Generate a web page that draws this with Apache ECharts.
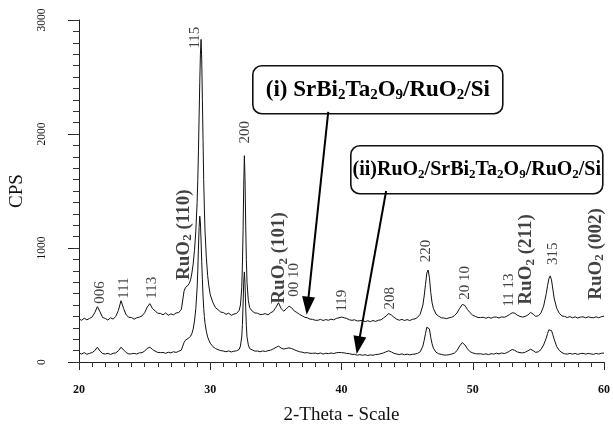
<!DOCTYPE html>
<html><head><meta charset="utf-8">
<script src="https://cdn.jsdelivr.net/npm/echarts@6/dist/echarts.min.js"></script>
<style>html,body{margin:0;padding:0;background:#fff}#c{width:613px;height:430px}</style>
</head><body><div id="c"></div>
<script>
// (i) SrBi2Ta2O9/RuO2/Si  — [2theta, CPS]
const seriesI = [
[20.0,378],[20.2,366],[20.4,384],[20.6,370],[20.8,382],[21.0,395],[21.2,432],[21.4,486],[21.6,440],[21.8,390],
[22.0,382],[22.2,368],[22.4,388],[22.6,376],[22.8,400],[23.0,452],[23.2,538],[23.4,468],[23.6,412],[23.8,392],
[24.0,390],[24.2,376],[24.4,388],[24.6,394],[24.8,404],[25.0,432],[25.2,482],[25.4,512],[25.6,468],[25.8,448],
[26.0,428],[26.2,426],[26.4,414],[26.6,430],[26.8,410],[27.0,422],[27.2,414],[27.4,430],[27.6,434],[27.8,462],
[28.0,620],[28.1,652],[28.2,658],[28.3,672],[28.4,690],[28.5,720],[28.6,780],[28.7,860],[28.8,980],[28.9,1150],
[29.0,1400],[29.05,1600],[29.1,1850],[29.15,2150],[29.2,2450],[29.25,2700],[29.3,2830],[29.35,2650],[29.4,2300],[29.45,1950],
[29.5,1600],[29.55,1350],[29.6,1150],[29.7,920],[29.8,760],[29.9,660],[30.0,590],[30.2,522],[30.4,476],[30.6,458],
[30.8,438],[31.0,434],[31.2,418],[31.4,428],[31.6,410],[31.8,420],[32.0,426],[32.2,452],[32.3,500],[32.4,650],
[32.45,850],[32.5,1150],[32.55,1550],[32.6,1810],[32.65,1600],[32.7,1200],[32.75,900],[32.8,700],[32.9,540],[33.0,476],
[33.2,446],[33.4,430],[33.6,428],[33.8,416],[34.0,418],[34.2,424],[34.4,414],[34.6,432],[34.8,444],[35.0,480],
[35.2,520],[35.4,468],[35.6,446],[35.8,466],[36.0,490],[36.2,476],[36.4,448],[36.6,434],[36.8,418],[37.0,406],
[37.2,392],[37.4,388],[37.6,376],[37.8,374],[38.0,366],[38.2,366],[38.4,374],[38.6,364],[38.8,372],[39.0,366],
[39.2,376],[39.4,370],[39.6,382],[39.8,388],[40.0,394],[40.2,388],[40.4,382],[40.6,370],[40.8,366],[41.0,370],
[41.2,360],[41.4,362],[41.6,366],[41.8,354],[42.0,362],[42.2,354],[42.4,364],[42.6,356],[42.8,366],[43.0,370],
[43.2,386],[43.4,404],[43.6,425],[43.8,412],[44.0,392],[44.2,376],[44.4,366],[44.6,374],[44.8,364],[45.0,372],
[45.2,364],[45.4,374],[45.6,378],[45.8,392],[46.0,420],[46.2,500],[46.3,580],[46.4,680],[46.5,780],[46.6,807],
[46.7,740],[46.8,610],[46.9,520],[47.0,470],[47.2,420],[47.4,402],[47.6,388],[47.8,386],[48.0,380],[48.2,388],
[48.4,392],[48.6,406],[48.8,430],[49.0,470],[49.2,505],[49.4,496],[49.6,460],[49.8,432],[50.0,410],[50.2,400],
[50.4,390],[50.6,390],[50.8,392],[51.0,384],[51.2,392],[51.4,384],[51.6,394],[51.8,394],[52.0,386],[52.2,396],
[52.4,392],[52.6,402],[52.8,416],[53.0,432],[53.2,428],[53.4,410],[53.6,400],[53.8,394],[54.0,400],[54.2,412],
[54.4,435],[54.6,420],[54.8,400],[55.0,406],[55.2,430],[55.4,490],[55.6,600],[55.7,670],[55.8,730],[55.9,755],
[56.0,720],[56.1,640],[56.2,560],[56.4,470],[56.6,426],[56.8,404],[57.0,400],[57.2,390],[57.4,398],[57.6,388],
[57.8,396],[58.0,386],[58.2,394],[58.4,396],[58.6,388],[58.8,396],[59.0,390],[59.2,388],[59.4,396],[59.6,388],
[59.8,398],[60.0,402]
];
// (ii) RuO2/SrBi2Ta2O9/RuO2/Si — [2theta, CPS]
const seriesII = [
[20.0,78],[20.2,70],[20.4,82],[20.6,68],[20.8,76],[21.0,82],[21.2,100],[21.4,130],[21.6,95],[21.8,74],
[22.0,70],[22.2,76],[22.4,66],[22.6,76],[22.8,80],[23.0,98],[23.2,130],[23.4,105],[23.6,82],[23.8,70],
[24.0,72],[24.2,76],[24.4,70],[24.6,80],[24.8,82],[25.0,95],[25.2,120],[25.4,130],[25.6,110],[25.8,95],
[26.0,84],[26.2,82],[26.4,84],[26.6,76],[26.8,86],[27.0,80],[27.2,90],[27.4,84],[27.6,94],[27.8,105],
[28.0,170],[28.1,190],[28.2,196],[28.3,206],[28.4,212],[28.5,225],[28.6,250],[28.7,290],[28.8,360],[28.9,470],
[29.0,650],[29.05,800],[29.1,1000],[29.15,1180],[29.2,1280],[29.25,1220],[29.3,1060],[29.35,880],[29.4,720],[29.45,580],
[29.5,470],[29.55,400],[29.6,340],[29.7,270],[29.8,220],[29.9,190],[30.0,165],[30.2,135],[30.4,118],[30.6,108],
[30.8,100],[31.0,96],[31.2,90],[31.4,97],[31.6,88],[31.8,95],[32.0,98],[32.2,110],[32.3,140],[32.4,220],
[32.45,330],[32.5,500],[32.55,700],[32.6,790],[32.65,680],[32.7,480],[32.75,320],[32.8,220],[32.9,150],[33.0,118],
[33.2,106],[33.4,96],[33.6,96],[33.8,90],[34.0,97],[34.2,92],[34.4,99],[34.6,104],[34.8,115],[35.0,128],
[35.2,139],[35.4,122],[35.6,114],[35.8,119],[36.0,124],[36.2,118],[36.4,108],[36.6,98],[36.8,90],[37.0,86],
[37.2,80],[37.4,82],[37.6,76],[37.8,76],[38.0,78],[38.2,72],[38.4,79],[38.6,70],[38.8,77],[39.0,73],
[39.2,79],[39.4,74],[39.6,81],[39.8,84],[40.0,82],[40.2,80],[40.4,75],[40.6,73],[40.8,67],[41.0,67],
[41.2,60],[41.4,65],[41.6,59],[41.8,64],[42.0,57],[42.2,63],[42.4,59],[42.6,66],[42.8,67],[43.0,73],
[43.2,80],[43.4,90],[43.6,98],[43.8,88],[44.0,76],[44.2,70],[44.4,65],[44.6,71],[44.8,64],[45.0,69],
[45.2,63],[45.4,67],[45.6,70],[45.8,76],[46.0,90],[46.2,140],[46.3,190],[46.4,250],[46.5,305],[46.6,321],
[46.7,290],[46.8,215],[46.9,160],[47.0,122],[47.2,86],[47.4,72],[47.6,67],[47.8,61],[48.0,61],[48.2,64],
[48.4,70],[48.6,78],[48.8,100],[49.0,140],[49.2,170],[49.4,150],[49.6,115],[49.8,90],[50.0,80],[50.2,73],
[50.4,71],[50.6,72],[50.8,67],[51.0,71],[51.2,65],[51.4,73],[51.6,69],[51.8,77],[52.0,71],[52.2,79],
[52.4,74],[52.6,82],[52.8,95],[53.0,110],[53.2,102],[53.4,88],[53.6,82],[53.8,80],[54.0,86],[54.2,98],
[54.4,112],[54.6,100],[54.8,84],[55.0,90],[55.2,110],[55.4,150],[55.6,210],[55.7,250],[55.8,282],[55.9,295],
[56.0,275],[56.1,240],[56.2,200],[56.4,135],[56.6,100],[56.8,82],[57.0,72],[57.2,69],[57.4,76],[57.6,69],
[57.8,75],[58.0,67],[58.2,73],[58.4,76],[58.6,69],[58.8,75],[59.0,71],[59.2,67],[59.4,75],[59.6,69],
[59.8,77],[60.0,78]
];
// peak (hkl) annotations: text, anchor 2theta, anchor CPS (label bottom)
const hklNames = ['006','111','113','115','200','00 10','119','208','220','20 10','11 13','315'];
const hklTheta = [21.64,23.44,25.53,28.82,32.64,36.37,40.04,43.69,46.47,49.38,52.75,56.11];
const hklCps   = [512,555,555,2749,1916,572,442,460,876,546,486,850];
// RuO2 reflections
const ruoNames = ['(110)','(101)','(211)','(002)'];
const ruoTheta = [28.0,35.25,54.1,59.4];
const ruoCps   = [720,512,503,546];
// arrows: from [2theta,CPS] to [2theta,CPS]
const arrowFrom = [[38.99,2194],[43.40,1500]];
const arrowTo   = [[37.42,494],[41.28,147]];

const SERIF = '"Liberation Serif","Times New Roman",serif';
const chart = echarts.init(document.getElementById('c'), null, {renderer:'canvas'});

const hklData = hklNames.map((n,i)=>({value:[hklTheta[i],hklCps[i]], name:n}));
const ruoData = ruoNames.map((n,i)=>({value:[ruoTheta[i],ruoCps[i]], name:n}));

function boxRich(fs){
  return {
    b:{fontFamily:SERIF,fontWeight:'bold',fontSize:fs,color:'#111',lineHeight:fs+4},
    s:{fontFamily:SERIF,fontWeight:'bold',fontSize:Math.round(fs*0.65),color:'#111',padding:[Math.round(fs*0.45),0,0,0],lineHeight:fs+4}
  };
}

chart.setOption({
  animation:false,
  backgroundColor:'#fff',
  grid:{left:74,right:4,top:20,bottom:64,containLabel:false},
  xAxis:[{
    type:'value',min:20,max:60,interval:10,
    name:'2-Theta - Scale',nameLocation:'middle',nameGap:44,
    nameTextStyle:{fontFamily:SERIF,fontSize:19,color:'#111'},
    axisLine:{onZero:false,lineStyle:{color:'#222',width:1}},
    axisTick:{show:true,inside:false,length:8,lineStyle:{color:'#222'}},
    axisLabel:{fontFamily:SERIF,fontWeight:'bold',fontSize:12,color:'#111',margin:22},
    splitLine:{show:false}
  },{
    type:'value',min:20,max:60,interval:1,position:'bottom',
    axisLine:{show:false,onZero:false},
    axisTick:{show:true,inside:false,length:5,lineStyle:{color:'#333'}},
    axisLabel:{show:false},splitLine:{show:false}
  }],
  yAxis:[{
    type:'value',min:0,max:3000,interval:1000,
    name:'CPS',nameLocation:'middle',nameGap:52,
    nameTextStyle:{fontFamily:SERIF,fontSize:19,color:'#111'},
    axisLine:{show:true,lineStyle:{color:'#222',width:1}},
    axisTick:{show:true,inside:false,length:11,lineStyle:{color:'#222'}},
    axisLabel:{fontFamily:SERIF,fontSize:11.5,color:'#111',rotate:90,margin:31,align:'center',verticalAlign:'bottom',
      formatter:v=>String(v)},
    splitLine:{show:false}
  },{
    type:'value',min:0,max:3000,interval:100,position:'left',
    axisLine:{show:false,onZero:false},
    axisTick:{show:true,inside:false,length:6,lineStyle:{color:'#333'}},
    axisLabel:{show:false},splitLine:{show:false}
  }],
  series:[
    {type:'line',data:seriesI,showSymbol:false,symbol:'none',sampling:'none',
     lineStyle:{color:'#111',width:1},z:2,
     markLine:{silent:true,symbol:['none','triangle'],symbolSize:[13,18],
       lineStyle:{color:'#000',width:2,type:'solid'},label:{show:false},
       data:arrowFrom.map((f,i)=>[{coord:f},{coord:arrowTo[i]}])}},
    {type:'line',data:seriesII,showSymbol:false,symbol:'none',sampling:'none',
     lineStyle:{color:'#111',width:1},z:2},
    {type:'scatter',data:hklData,symbolSize:0,z:5,silent:true,
     label:{show:true,position:'inside',rotate:90,align:'left',verticalAlign:'middle',
       formatter:p=>p.name,fontFamily:SERIF,fontSize:15,color:'#111'}},
    {type:'scatter',data:ruoData,symbolSize:0,z:5,silent:true,
     label:{show:true,position:'inside',rotate:90,align:'left',verticalAlign:'middle',
       formatter:p=>'{b|RuO}{s|2}{b| '+p.name+'}',
       rich:{b:{fontFamily:SERIF,fontWeight:'bold',fontSize:19,color:'#111',lineHeight:22},
             s:{fontFamily:SERIF,fontWeight:'bold',fontSize:13,color:'#111',padding:[8,0,0,0],lineHeight:22}}}}
  ],
  graphic:[
    {type:'group',left:252,top:65,z:20,children:[
      {type:'rect',shape:{x:0,y:0,width:250,height:48,r:9},style:{fill:'#fff',stroke:'#111',lineWidth:1.6}},
      {type:'text',x:125,y:24,style:{
        text:'{b|(i) SrBi}{s|2}{b|Ta}{s|2}{b|O}{s|9}{b|/RuO}{s|2}{b|/Si}',
        align:'center',verticalAlign:'middle',rich:boxRich(23)}}
    ]},
    {type:'group',left:350,top:145,z:20,children:[
      {type:'rect',shape:{x:0,y:0,width:252,height:48,r:9},style:{fill:'#fff',stroke:'#111',lineWidth:1.6}},
      {type:'text',x:126,y:24,style:{
        text:'{b|(ii)RuO}{s|2}{b|/SrBi}{s|2}{b|Ta}{s|2}{b|O}{s|9}{b|/RuO}{s|2}{b|/Si}',
        align:'center',verticalAlign:'middle',rich:boxRich(20)}}
    ]}
  ]
});
</script></body></html>
